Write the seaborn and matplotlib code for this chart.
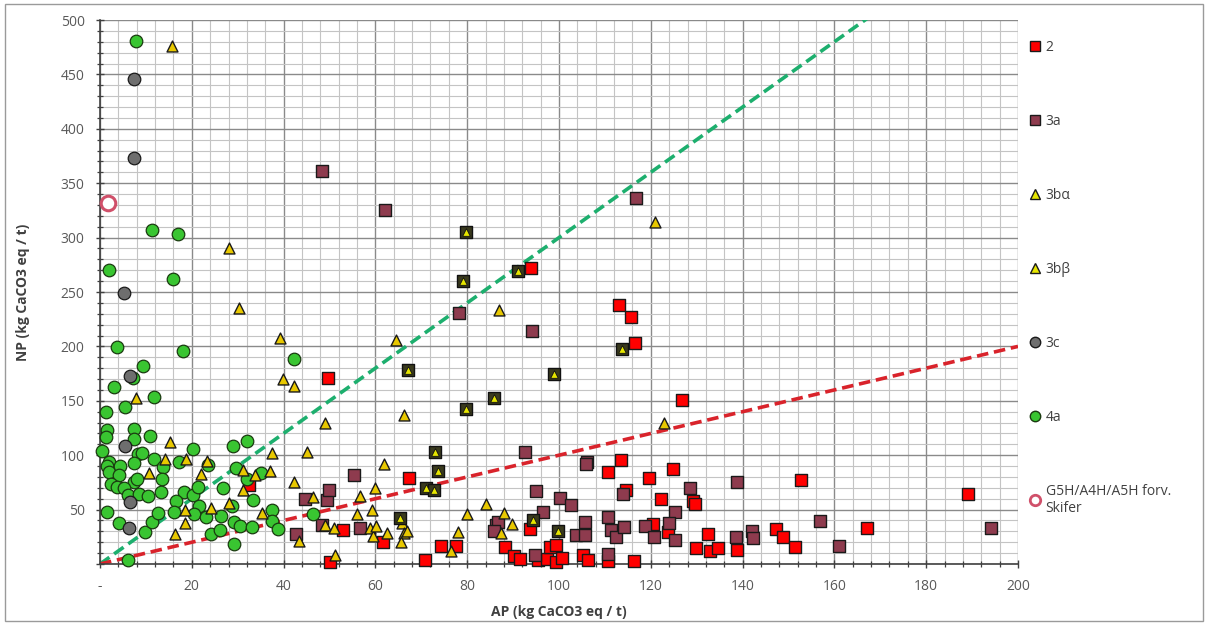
import matplotlib
matplotlib.use("Agg")
import matplotlib.pyplot as plt
import seaborn as sns
import pandas as pd
import numpy as np
from matplotlib.lines import Line2D
from matplotlib.patches import Rectangle
from matplotlib.ticker import MultipleLocator, FixedLocator

# ---------------- data (AP, NP) ----------------
s2_ap = [49.7, 32.4, 53.0, 50.1, 61.6, 67.4, 70.7, 74.2, 77.6, 88.2, 90.1, 91.5, 93.7, 94.0, 95.4,
         97.3, 99.3, 100.7, 98.0, 99.4, 105.3, 106.4, 110.7, 113.1, 115.7, 116.6, 126.9, 113.4,
         110.6, 124.9, 119.5, 122.2, 129.1, 129.6, 114.7, 120.4, 123.8, 132.5, 129.8, 132.9,
         134.7, 138.8, 116.3, 147.2, 148.7, 151.4, 152.7, 167.0, 189.0]
s2_np = [171, 73, 31.2, 2.1, 20.5, 78.8, 3.4, 16.2, 16.8, 15.9, 7.0, 4.8, 31.9, 272.4, 3.7,
         4.3, 1.6, 5.2, 15.9, 17.5, 8.7, 3.7, 3.0, 238, 226.6, 203.4, 150.7, 95.6,
         85, 87.3, 78.8, 59.7, 57.9, 54.9, 68, 36.8, 29.4, 27.3, 14.4, 12,
         14.7, 12.9, 2.8, 31.9, 24.5, 15.9, 77.2, 32.8, 64.0]

s3a_ap = [48.3, 62.2, 116.8, 78.3, 94.2, 92.5, 55.4, 44.7, 49.4, 49.9, 42.6, 48.3, 56.7, 94.9,
          94.8, 86.3, 86.8, 85.9, 100.2, 102.7, 96.6, 106.0, 105.9, 110.7, 105.7, 113.9, 128.5,
          125.3, 103.7, 105.7, 111.4, 112.5, 114.1, 118.7, 120.6, 124.0, 125.3, 110.7, 138.5,
          138.8, 142.0, 142.3, 156.9, 161.0, 194.1]
s3a_np = [361, 325, 336, 231, 214.2, 102.9, 81.7, 59.6, 59.2, 68.3, 27.3, 36.3, 33, 67.4,
          8.3, 35.8, 38.5, 30.2, 61.1, 54.2, 48.1, 94, 91.9, 42.9, 38.9, 64, 69.6,
          48.1, 26.4, 27, 31.6, 25.1, 34.3, 35.2, 24.8, 37.7, 21.7, 9.2, 24.8,
          75.7, 30, 24.2, 39.8, 16.8, 33.4]

s3ba_ap = [15.7, 28.0, 30.2, 39.2, 64.5, 87.0, 120.9, 39.9, 42.3, 7.8, 49.0, 66.2, 122.9, 15.3,
           45.2, 37.4, 14.1, 18.7, 23.4, 61.8, 31.1, 37.0, 10.7, 22.1, 33.7, 42.3, 31.2, 46.5,
           56.6, 59.9, 28.0, 18.5, 24.1, 35.2, 56.1, 59.2, 84.0, 80.0, 88.0, 16.3, 18.6, 43.4,
           49.0, 51.0, 58.8, 59.5, 60.1, 62.5, 65.9, 66.2, 66.9, 65.5, 51.2, 76.5, 78.1, 87.4,
           89.8]
s3ba_np = [476, 290, 235.6, 207.4, 205.6, 233.8, 314.6, 170, 163.6, 152.9, 129.6, 136.6, 129.3, 111.8,
           102.8, 102.3, 96.2, 96.2, 95, 92, 86, 85.5, 84, 82.4, 81.5, 75.5, 68, 61.3,
           62.6, 69.9, 56.5, 49.6, 51.2, 47, 46.2, 49.6, 55.3, 46.3, 46.6, 27.8, 37.4, 21.1,
           36.3, 32.8, 33.5, 25.7, 35.3, 28.5, 37.4, 28.2, 30.3, 19.9, 8, 12.3, 29.1, 28.2,
           36.5]

s3bb_ap = [79.7, 79.0, 91.1, 113.7, 67.0, 99.0, 85.9, 79.7, 73.0, 73.7, 71.1, 72.7, 65.4, 94.4, 99.7]
s3bb_np = [305.1, 260.4, 269.3, 197.5, 178.3, 174.6, 152.5, 142.8, 103.2, 85.5, 69.9, 68.3, 42, 40.7, 30.3]

s3c_ap = [7.3, 7.4, 5.3, 6.5, 5.5, 6.5, 6.3]
s3c_np = [446, 373, 249, 172.5, 108, 57.3, 33]

s4a_ap = [7.8, 11.3, 17.1, 2.0, 16.0, 3.6, 18.1, 42.2, 9.3, 7.1, 3.1, 11.8, 5.5, 1.4, 1.6, 7.4,
          1.3, 7.3, 11.0, 32.0, 28.9, 0.4, 20.2, 8.3, 9.2, 11.7, 17.3, 23.6, 2.0, 1.6, 2.0, 4.4,
          4.2, 7.5, 7.5, 8.0, 13.8, 13.4, 29.6, 35.1, 32.1, 2.5, 3.6, 5.3, 6.2, 8.5, 10.5, 13.2,
          18.4, 20.2, 21.4, 26.8, 33.4, 16.5, 21.5, 28.7, 1.5, 4.2, 9.8, 11.4, 12.7, 16.2, 20.5,
          23.2, 26.4, 24.2, 26.2, 29.3, 30.6, 33.1, 29.2, 37.4, 37.5, 38.7, 46.5, 6.2]
s4a_np = [481, 307, 303, 270, 262, 199, 195.8, 188.2, 182, 171, 162.4, 153.2, 144, 139.7, 123.5, 124,
          116.4, 114.9, 118, 112.7, 108, 103.5, 105.7, 101, 102.3, 96.4, 93.8, 91, 93.5, 90, 84.8, 90,
          81.5, 92.5, 75.6, 78.1, 89.4, 78.5, 88.5, 83.4, 78, 73.2, 71, 69.6, 63.4, 64.3, 62.8, 65.8,
          66, 63.7, 70.7, 70.3, 58.8, 57.8, 53.5, 53.3, 48, 37.8, 29.2, 38.2, 46.6, 47.5, 46.3,
          43.5, 44, 27.6, 31.5, 38.9, 34.9, 34.3, 18.2, 50, 39.6, 31.9, 46, 3.4]

sg5h_ap = [1.8]
sg5h_np = [332]

# reference lines NP/AP ratios
ratio_green = 3.0
ratio_red = 1.0
line_ap = [0, 200]

x_ticks = [0, 20, 40, 60, 80, 100, 120, 140, 160, 180, 200]
x_labels = ["-", "20", "40", "60", "80", "100", "120", "140", "160", "180", "200"]
y_ticks = [0, 50, 100, 150, 200, 250, 300, 350, 400, 450, 500]
y_labels = ["", "50", "100", "150", "200", "250", "300", "350", "400", "450", "500"]

labels = ["2", "3a", "3b\u03b1", "3b\u03b2", "3c", "4a", "G5H/A4H/A5H forv.\nSkifer"]

# ---------------- style ----------------
sns.set_theme(style="white")
plt.rcParams['font.family'] = ['Open Sans', 'DejaVu Sans']

fig = plt.figure(figsize=(12.08, 6.26), dpi=100)
ax = fig.add_axes([100 / 1208, (626 - 564) / 626, 918 / 1208, 544 / 626])

C_RED = "#FF0000"
C_3A = "#8E3B4E"
C_TRI = "#E8C800"
C_TRI2 = "#E6E600"
C_GREY = "#6E6E6E"
C_GREEN = "#39C531"
C_PINK = "#D0506A"

ax.set_xlim(0, 200)
ax.set_ylim(0, 500)

# reference lines
ax.plot(line_ap, [ratio_green * v for v in line_ap], ls=(0, (3.2, 1.6)), color="#1DAF6E", lw=2.6, zorder=2)
ax.plot(line_ap, [ratio_red * v for v in line_ap], ls=(0, (3.2, 1.6)), color="#D9232B", lw=2.6, zorder=2)

def sc(x, y, **kw):
    df = pd.DataFrame({"AP": x, "NP": y})
    sns.scatterplot(data=df, x="AP", y="NP", ax=ax, legend=False, clip_on=False, **kw)

sc(s2_ap, s2_np, marker="s", s=66, color=C_RED, edgecolor="#1a1a1a", linewidth=1.0, zorder=3)
sc(s3a_ap, s3a_np, marker="s", s=66, color=C_3A, edgecolor="#1a1a1a", linewidth=1.0, zorder=3)
sc(s4a_ap, s4a_np, marker="o", s=82, color=C_GREEN, edgecolor="#1a3a10", linewidth=0.9, zorder=4)
sc(s3c_ap, s3c_np, marker="o", s=82, color=C_GREY, edgecolor="#1a1a1a", linewidth=0.9, zorder=4)
sc(s3ba_ap, s3ba_np, marker="^", s=62, color=C_TRI, edgecolor="#1a1a1a", linewidth=1.0, zorder=5)
sc(s3bb_ap, s3bb_np, marker="s", s=76, color="#3a3a1e", edgecolor="#111111", linewidth=1.0, zorder=5)
sc(s3bb_ap, s3bb_np, marker="^", s=30, color=C_TRI2, edgecolor="#111111", linewidth=0.6, zorder=6)
sc(sg5h_ap, sg5h_np, marker="o", s=110, color="white", edgecolor=C_PINK, linewidth=2.2, zorder=6)

# ticks & grid
ax.xaxis.set_major_locator(FixedLocator(x_ticks))
ax.yaxis.set_major_locator(FixedLocator(y_ticks))
ax.set_xticklabels(x_labels)
ax.set_yticklabels(y_labels)
ax.xaxis.set_minor_locator(MultipleLocator(4))
ax.yaxis.set_minor_locator(MultipleLocator(10))
ax.grid(which="major", color="#8a8a8a", lw=1.0, zorder=0)
ax.grid(which="minor", color="#c4c4c4", lw=0.8, zorder=0)
ax.set_axisbelow(True)
ax.tick_params(which="both", direction="inout", color="#404040", labelcolor="#595959", labelsize=10)
ax.tick_params(which="major", length=6, width=1.0, pad=8)
ax.tick_params(which="minor", length=5, width=0.9)
ax.tick_params(axis="x", which="both", bottom=True)
ax.tick_params(axis="y", which="both", left=True)
for side in ["top", "right"]:
    ax.spines[side].set_visible(False)
for side in ["left", "bottom"]:
    ax.spines[side].set_color("#404040")
    ax.spines[side].set_linewidth(1.2)

ax.set_xlabel("AP (kg CaCO3 eq / t)", fontsize=10, fontweight="bold", color="#404040", labelpad=8)
ax.set_ylabel("NP (kg CaCO3 eq / t)", fontsize=10, fontweight="bold", color="#404040", labelpad=22)

# legend
handles = [
    Line2D([], [], ls="", marker="s", ms=7.5, mfc=C_RED, mec="#1a1a1a"),
    Line2D([], [], ls="", marker="s", ms=7.5, mfc=C_3A, mec="#1a1a1a"),
    Line2D([], [], ls="", marker="^", ms=7.5, mfc=C_TRI2, mec="#1a1a1a"),
    Line2D([], [], ls="", marker="^", ms=7.5, mfc=C_TRI2, mec="#1a1a1a"),
    Line2D([], [], ls="", marker="o", ms=7.5, mfc=C_GREY, mec="#1a1a1a"),
    Line2D([], [], ls="", marker="o", ms=7.5, mfc=C_GREEN, mec="#1a3a10"),
    Line2D([], [], ls="", marker="o", ms=7.5, mfc="white", mec=C_PINK, mew=2),
]
leg = fig.legend(handles, labels, loc="upper left", bbox_to_anchor=(1022 / 1208, 1 - 34 / 626),
                 frameon=False, fontsize=10, labelspacing=4.25, handletextpad=0.3,
                 handlelength=1.0, borderaxespad=0)
for t in leg.get_texts():
    t.set_color("#404040")

fig.add_artist(Rectangle((5 / 1208, 5 / 626), 1198 / 1208, 617 / 626, transform=fig.transFigure,
                         fill=False, edgecolor="#9a9a9a", lw=1.0))

fig.savefig("out.png", dpi=100)
